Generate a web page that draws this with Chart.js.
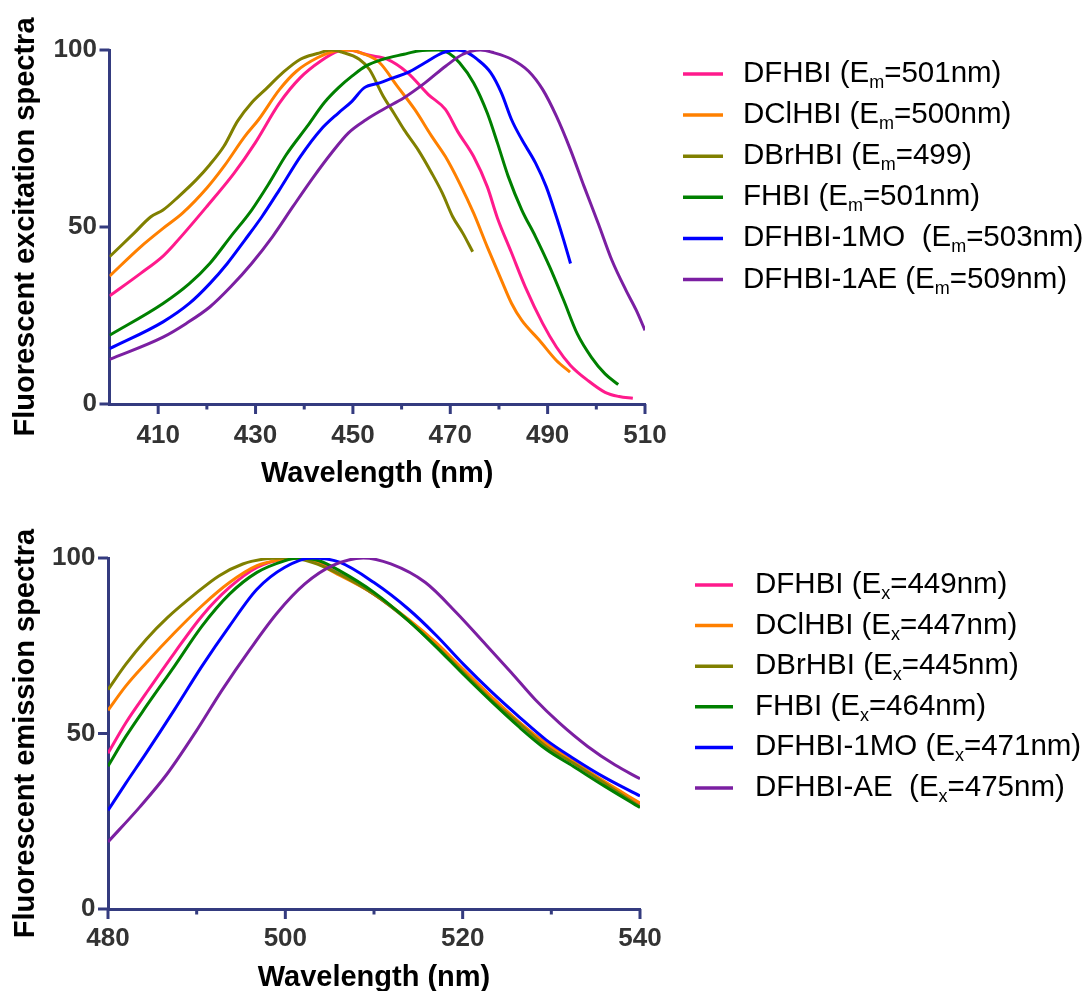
<!DOCTYPE html>
<html><head><meta charset="utf-8">
<script src="https://cdn.jsdelivr.net/npm/chart.js@4"></script>
<style>
html,body{margin:0;padding:0;background:#fff;overflow:hidden;}
#wrap{position:relative;width:1087px;height:991px;overflow:hidden;}
canvas{position:absolute;left:0;}
</style></head><body>
<div id="wrap">
<canvas id="c1" width="1087" height="500" style="top:0"></canvas>
<canvas id="c2" width="1087" height="500" style="top:500px"></canvas>
</div>
<script>
// ---------- Excitation spectra (top) ----------
const EX_DFHBI = [[400,30.5],[406.4,36.9],[411,41.8],[413.5,45.4],[420,55.8],[425.6,65.2],[429.9,73.7],[434.9,85],[439.2,92.2],[443.4,96.9],[447,99.7],[449,100],[453.4,98.5],[457,97.4],[461.2,93.6],[465.5,87.4],[469,83.2],[471.6,76.8],[474.8,69.9],[477.6,61.4],[479.7,52.5],[482.5,43],[485.4,33.1],[489,22.7],[491.8,16.1],[494.7,10.9],[498.3,6.6],[501.8,3.3],[504.7,2.1],[507.5,1.6]];
const EX_DCLHBI = [[400,36.1],[406.4,44.4],[411,49.6],[415,53.9],[420,61],[423.5,67.1],[427.8,75.6],[430.6,80.3],[434.9,88.8],[438.4,94],[442.7,97.8],[446.3,99.7],[449.1,100],[452,99],[455.5,96.4],[459.1,89.8],[462.7,83.2],[466.2,75.6],[469,69.9],[471.9,62.4],[474.8,53.9],[477.6,44.4],[480.5,35],[482.6,28.4],[484.7,23.6],[488.3,18],[491.8,12.3],[494.6,9]];
const EX_DBRHBI = [[400,41.6],[405,48.2],[408.5,52.9],[411,54.8],[414.2,58.6],[417.8,63.3],[420.6,67.6],[423.5,72.8],[426.3,79.9],[429.2,85.1],[432,88.8],[435.6,93.6],[439.2,97.4],[442.7,99],[445.6,100],[447.7,99.4],[451.3,97.4],[453.4,94.5],[456.2,87],[458.4,82.2],[460.5,77.5],[463.4,71.8],[466.2,65.2],[468.4,59.5],[470.5,52.9],[472.6,48.2],[474.6,43]];
const EX_FHBI = [[400,19.4],[411,28.4],[416.4,34],[420.6,39.7],[424.9,47.3],[429.2,54.8],[432.8,62.4],[436.3,70.4],[440.6,78.4],[444.1,85.1],[447,89.3],[449.8,92.6],[452.7,95.5],[456.2,97.4],[460.5,98.8],[463.4,99.7],[467.6,100],[469.8,99],[471.9,96.4],[474.8,90.7],[477.6,82.2],[479.7,73.7],[481.9,64.3],[484.7,54.8],[487.5,47.3],[490.4,38.8],[493.3,29.3],[496.1,19.8],[499,13.2],[501.8,8.5],[504.5,5.5]];
const EX_1MO = [[400,15.6],[411,23.2],[416.4,28.4],[420.6,34],[424.2,39.7],[427.8,46.3],[431.3,52.9],[434.9,60.5],[439.2,69.9],[443.4,77.5],[447,82.2],[449.8,85.5],[452.3,89.3],[455.5,90.7],[458.4,92.2],[461.2,93.6],[464.8,96.4],[468.4,99.2],[471.2,100],[473.3,99.4],[475.5,97.4],[478.3,93.6],[480.5,87.9],[482.6,80.3],[484.7,74.7],[487.5,68.1],[489.7,61.4],[491.8,52.9],[493.3,46.3],[494.7,39.7]];
const EX_1AE = [[400,12.6],[411,18.9],[415.7,22.7],[420.6,27.4],[424.9,33.1],[429.2,39.7],[433.5,47.3],[437.7,55.8],[442,64.3],[445.6,70.9],[449.1,76.6],[452.7,80.3],[456.2,83.2],[460.5,86.5],[464.8,90.7],[469.1,95.5],[472.6,98.8],[476.2,100],[479,99.2],[482.6,97.4],[486.1,94],[489,88.8],[491.8,81.3],[494.7,71.8],[497.5,61.4],[500.4,51],[503.2,40.6],[506.1,32.1],[508.2,26.5],[510,20.8]];
const EX_LABELS = ['DFHBI (E_m=501nm)','DClHBI (E_m=500nm)','DBrHBI (E_m=499)','FHBI (E_m=501nm)','DFHBI-1MO  (E_m=503nm)','DFHBI-1AE (E_m=509nm)'];
const EX_X_MAJOR = [410,430,450,470,490,510];
const EX_X_MINOR = [420,440,460,480,500];

// ---------- Emission spectra (bottom) ----------
const EM_DFHBI = [[480,44.4],[482,53],[484.3,61.5],[487.5,73],[490.6,83.5],[493.7,91.6],[496.8,97.3],[499.9,99.7],[502.2,100],[506.1,95.4],[510,89.7],[513.9,82.3],[517,75.6],[520.1,68],[523.2,60.4],[526.3,53.3],[529.4,47],[532.5,41.7],[536,36],[540,29.9]];
const EM_DCLHBI = [[480,56.6],[482,63.5],[484.3,70.1],[487.5,78.7],[490.6,86.4],[493.7,93],[496.8,97.8],[499.9,99.7],[501.8,100],[506.1,95.1],[510,89.7],[513.9,82.5],[517,75.9],[520.1,68.2],[523.2,60.6],[526.3,53.4],[529.4,47.2],[532.5,42],[536,36.3],[540,30.2]];
const EM_DBRHBI = [[480,62.5],[482,69.7],[484.3,76.8],[486.7,83],[489.8,89.7],[492.5,94.9],[495.2,98.3],[497.6,99.7],[500.3,100],[503,98.8],[506.1,95.4],[510,89.7],[513.9,82.1],[517,74.9],[520.1,67.3],[523.2,59.6],[526.3,53],[529.4,46.3],[532.5,41.5],[536,35.8],[540,29.1]];
const EM_FHBI = [[480,40.7],[482,49.1],[484.3,57.7],[487.5,69.2],[490.6,80.6],[493.7,89.7],[496.8,95.9],[499.9,99.2],[501.4,100],[503.8,99.2],[506.1,96.4],[510,90.2],[513.9,82.1],[517,74.7],[520.1,66.8],[523.2,59.2],[526.3,52],[529.4,45.5],[532.5,40.6],[536,35],[540,28.9]];
const EM_1MO = [[480,28.1],[482,35.8],[484.3,44.4],[487.5,56.8],[490.6,69.2],[493.7,80.6],[496.8,91.1],[499.9,97.3],[503,100],[506.1,98.8],[510,93],[513.9,85.4],[517,78],[520.1,69.7],[523.2,62],[526.3,54.9],[529.4,48.2],[532.5,42.9],[536,37.5],[540,32.2]];
const EM_AE = [[480,19.1],[483.6,29.1],[486.7,38.6],[489.8,50.1],[492.9,62.5],[496,73.9],[499.1,84.4],[502.2,92.6],[505.3,97.8],[508.8,100],[511.9,98.3],[515.8,93],[519.3,84.4],[522.4,75.9],[525.5,67.3],[528.2,59.6],[530.9,53],[534.1,46.3],[537.2,41],[540,37.1]];
const EM_LABELS = ['DFHBI (E_x=449nm)','DClHBI (E_x=447nm)','DBrHBI (E_x=445nm)','FHBI (E_x=464nm)','DFHBI-1MO (E_x=471nm)','DFHBI-AE  (E_x=475nm)'];
const EM_X_MAJOR = [480,500,520,540];
const EM_X_MINOR = [490,510,530];

const Y_TICKS = [0,50,100];
const COLORS = ['#ff1a8c','#ff8000','#808000','#008000','#0000ff','#7b1fa2'];
const AXIS = '#343b7f';
const FAMILY = "'Liberation Sans', Arial, Helvetica, sans-serif";

Chart.defaults.font.family = FAMILY;

const tickPlugin = {
  id: 'axisTicks',
  afterDraw(chart, args, o) {
    const ctx = chart.ctx, xs = chart.scales.x, ys = chart.scales.y, a = chart.chartArea;
    ctx.save();
    ctx.strokeStyle = AXIS; ctx.lineWidth = 3; ctx.lineCap = 'butt';
    const seg = (x1,y1,x2,y2)=>{ctx.beginPath();ctx.moveTo(x1,y1);ctx.lineTo(x2,y2);ctx.stroke();};
    o.xMajor.forEach(v=>{const p=xs.getPixelForValue(v); seg(p,a.bottom,p,a.bottom+10);});
    o.xMinor.forEach(v=>{const p=xs.getPixelForValue(v); seg(p,a.bottom,p,a.bottom+5.5);});
    o.y.forEach(v=>{const p=ys.getPixelForValue(v); seg(a.left,p,a.left-10,p);});
    ctx.restore();
  }
};

const legendPlugin = {
  id: 'subLegend',
  afterDraw(chart, args, o) {
    const ctx = chart.ctx;
    ctx.save();
    chart.data.datasets.forEach((ds, i) => {
      const y = o.y0 + i * o.dy;
      ctx.strokeStyle = ds.borderColor; ctx.lineWidth = 3.5;
      ctx.beginPath(); ctx.moveTo(o.x0, y); ctx.lineTo(o.x1, y); ctx.stroke();
      const parts = ds.label.split('_');
      const pre = parts[0], sub = parts[1].charAt(0), post = parts[1].slice(1);
      ctx.fillStyle = '#000'; ctx.textBaseline = 'alphabetic'; ctx.textAlign = 'left';
      let x = o.tx; const by = y + 8;
      ctx.font = `${o.size}px ${FAMILY}`;
      ctx.fillText(pre, x, by); x += ctx.measureText(pre).width;
      ctx.font = `${o.subSize}px ${FAMILY}`;
      ctx.fillText(sub, x, by + 6); x += ctx.measureText(sub).width;
      ctx.font = `${o.size}px ${FAMILY}`;
      ctx.fillText(post, x, by);
    });
    ctx.restore();
  }
};

function makeSeries(arrays, labels) {
  return arrays.map((arr, i) => ({
    label: labels[i],
    data: arr.map(p => ({x: p[0], y: p[1]})),
    borderColor: COLORS[i],
    backgroundColor: COLORS[i],
    borderWidth: 3,
    pointRadius: 0,
    fill: false,
    cubicInterpolationMode: 'monotone',
    order: 10 - i
  }));
}

function makeChart(id, cfg) {
  return new Chart(document.getElementById(id), {
    type: 'line',
    data: { datasets: makeSeries(cfg.series, cfg.labels) },
    options: {
      responsive: false,
      animation: false,
      layout: { padding: { left: 0, top: cfg.top, right: cfg.right, bottom: 0 } },
      plugins: {
        legend: { display: false },
        tooltip: { enabled: false },
        axisTicks: { xMajor: cfg.xMajor, xMinor: cfg.xMinor, y: Y_TICKS },
        subLegend: cfg.legend
      },
      scales: {
        x: {
          type: 'linear', min: cfg.xmin, max: cfg.xmax,
          afterFit: s => { s.height = cfg.xh; },
          grid: { display: false, drawTicks: false },
          border: { display: true, color: AXIS, width: 3 },
          ticks: {
            stepSize: 10, autoSkip: false, maxRotation: 0, padding: cfg.xTickPad,
            color: '#333', font: { size: 26, weight: 'bold', lineHeight: 1.2 },
            callback: v => cfg.xMajor.includes(v) ? String(v) : ''
          },
          title: { display: true, text: 'Wavelength (nm)', color: '#000',
            font: { size: 29, weight: 'bold', lineHeight: 1.2 }, padding: { top: 0, bottom: cfg.xTitlePad } }
        },
        y: {
          type: 'linear', min: 0, max: 100,
          afterFit: s => { s.width = cfg.yw; },
          grid: { display: false, drawTicks: false },
          border: { display: true, color: AXIS, width: 3 },
          ticks: {
            stepSize: 50, padding: 12.5, color: '#333',
            font: { size: 26, weight: 'bold', lineHeight: 1.2 }
          },
          title: { display: true, text: cfg.ytitle, color: '#000',
            font: { size: 29, weight: 'bold', lineHeight: 1.2 }, padding: { top: 9, bottom: 0 } }
        }
      }
    },
    plugins: [tickPlugin, legendPlugin]
  });
}

makeChart('c1', {
  series: [EX_DFHBI, EX_DCLHBI, EX_DBRHBI, EX_FHBI, EX_1MO, EX_1AE],
  labels: EX_LABELS, xMajor: EX_X_MAJOR, xMinor: EX_X_MINOR,
  xmin: 400, xmax: 510, top: 50, right: 442, xh: 96, yw: 109.5,
  xTickPad: 16.5, xTitlePad: 8.5,
  ytitle: 'Fluorescent excitation spectra',
  legend: { x0: 683, x1: 723, tx: 743, y0: 74, dy: 41.1, size: 29.5, subSize: 18 }
});

makeChart('c2', {
  series: [EM_DFHBI, EM_DCLHBI, EM_DBRHBI, EM_FHBI, EM_1MO, EM_AE],
  labels: EM_LABELS, xMajor: EM_X_MAJOR, xMinor: EM_X_MINOR,
  xmin: 480, xmax: 540, top: 58, right: 447, xh: 91, yw: 108,
  xTickPad: 14.5, xTitlePad: 5,
  ytitle: 'Fluorescent emission spectra',
  legend: { x0: 695, x1: 733, tx: 755, y0: 85, dy: 40.6, size: 29.5, subSize: 18 }
});
</script>
</body></html>
